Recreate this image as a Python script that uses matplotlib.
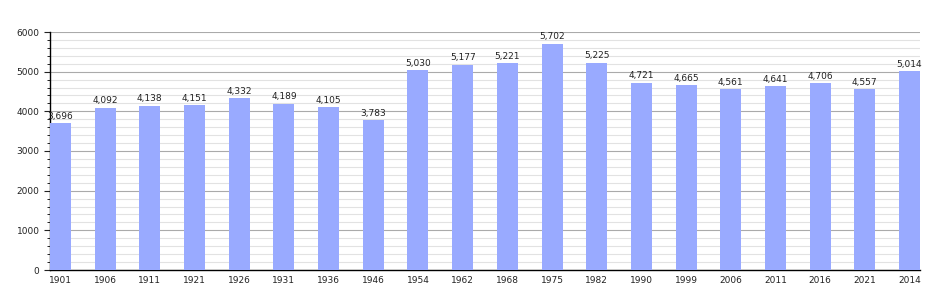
import numpy as np
import matplotlib
matplotlib.use("Agg")
import matplotlib.pyplot as plt
from matplotlib.ticker import MultipleLocator

# DATA
years = ["1901", "1906", "1911", "1921", "1926", "1931", "1936", "1946", "1954", "1962",
         "1968", "1975", "1982", "1990", "1999", "2006", "2011", "2016", "2021", "2014"]
population = [3696, 4092, 4138, 4151, 4332, 4189, 4105, 3783, 5030, 5177,
              5221, 5702, 5225, 4721, 4665, 4561, 4641, 4706, 4557, 5014]

# PLOT
fig = plt.figure(figsize=(9.5, 3), dpi=100)
ax = fig.add_axes([50 / 950, 30 / 300, 870 / 950, 238 / 300])

x = np.arange(len(years))
width = 0.47
ax.bar(x, population, width=width, color="#99aaff", zorder=3)

for xi, v in zip(x, population):
    ax.text(xi, v + 60, f"{v:,}", ha="center", va="bottom", fontsize=6.5, color="#222222", zorder=4)

ax.set_xlim(-width / 2, len(years) - 1 + width / 2)
ax.set_ylim(0, 6000)
ax.set_xticks(x)
ax.set_xticklabels(years)
ax.yaxis.set_major_locator(MultipleLocator(1000))
ax.yaxis.set_minor_locator(MultipleLocator(200))

ax.grid(True, axis="y", which="major", color="#aaaaaa", linewidth=0.8, zorder=0)
ax.grid(True, axis="y", which="minor", color="#e2e2e2", linewidth=0.8, zorder=0)

for s in ["top", "right"]:
    ax.spines[s].set_visible(False)
ax.spines["left"].set_linewidth(1.0)
ax.spines["bottom"].set_linewidth(1.0)

ax.tick_params(axis="x", length=0, labelsize=6.5, pad=4, colors="#222222")
ax.tick_params(axis="y", which="major", length=4, labelsize=6.5, colors="#222222")
ax.tick_params(axis="y", which="minor", length=2)

fig.savefig("out.png", dpi=100)
